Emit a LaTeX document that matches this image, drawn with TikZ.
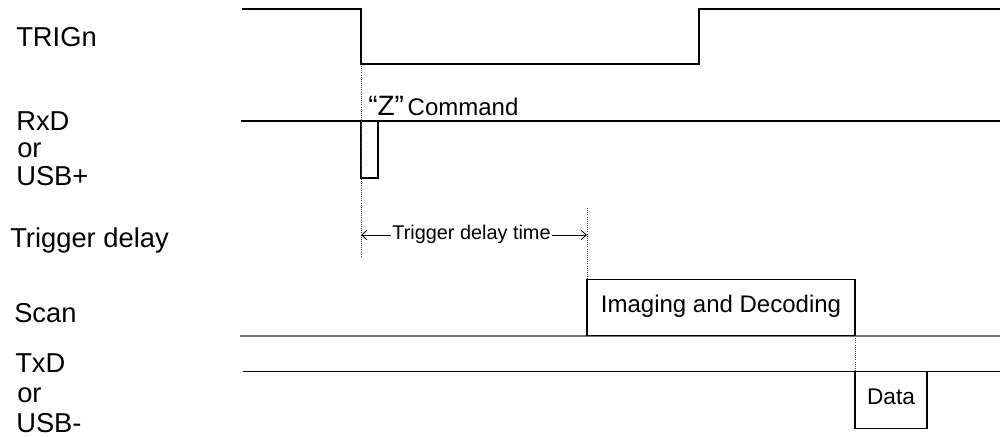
\documentclass[tikz,border=0pt]{standalone}
\usepackage{fontspec}
\setmainfont{Liberation Sans}
\usetikzlibrary{arrows.meta}
\begin{document}
\begin{tikzpicture}[x=0.75pt,y=-0.75pt,
  sig/.style={line width=0.8pt, black},
  grayline/.style={line width=1.5pt, black!55},
  guide/.style={densely dotted, line width=0.6pt, black!75},
  lbl/.style={anchor=base west, inner sep=0pt, font=\fontsize{20.5}{24}\selectfont},
  boxtext/.style={draw, line width=0.8pt, inner sep=0pt, text height=0.716em, text depth=0pt},
  dim/.style={line width=0.6pt, {Straight Barb[length=4pt,width=7pt]}-{Straight Barb[length=4pt,width=7pt]}}]
\useasboundingbox (0,0) rectangle (1000,436);

% signal names
\node[lbl] (ltrig) at (16,46) {TRIGn};
\node[lbl] (lrxd) at (16,130) {RxD};
\node[lbl] (lor1) at (17,157) {or};
\node[lbl] (lusbp) at (16,185) {USB+};
\node[lbl] (ldelay) at (10,247) {Trigger delay};
\node[lbl] (lscan) at (14,322) {Scan};
\node[lbl] (ltxd) at (15,372) {TxD};
\node[lbl] (lor2) at (17,402) {or};
\node[lbl] (lusbm) at (16,432) {USB-};

% TRIGn waveform
\coordinate (t0) at (242,9);
\coordinate (t1) at (361,9);
\coordinate (t2) at (361,64);
\coordinate (t3) at (699,64);
\coordinate (t4) at (699,9);
\coordinate (t5) at (1000,9);
\draw[sig] (t0) -- (t1) -- (t2) -- (t3) -- (t4) -- (t5);

% RxD waveform
\coordinate (r0) at (241,121);
\coordinate (r1) at (1000,121);
\coordinate (p0) at (361,121);
\coordinate (p1) at (361,178);
\coordinate (p2) at (378,178);
\coordinate (p3) at (378,121);
\draw[sig] (r0) -- (r1);
\draw[sig] (p0) -- (p1) -- (p2) -- (p3);
\node[anchor=base west, inner sep=0pt] (zcmd) at (368,115)
  {{\fontsize{21}{24}\selectfont “Z”} {\fontsize{18}{21}\selectfont Command}};

% guides
\coordinate (g1a) at (361,66);
\coordinate (g1b) at (361,258);
\draw[guide] (g1a) -- (g1b);
\coordinate (g2a) at (587,208);
\coordinate (g2b) at (587,279);
\draw[guide] (g2a) -- (g2b);
\coordinate (g3a) at (855,336);
\coordinate (g3b) at (855,371.7);
\draw[guide] (g3a) -- (g3b);

% trigger delay dimension
\coordinate (d0) at (361,235);
\coordinate (d1) at (587,235);
\draw[dim] (d0) -- (d1);
\node[fill=white, inner xsep=1pt, inner ysep=1pt, text height=0.716em, text depth=0pt,
  font=\fontsize{14.9}{17}\selectfont] (dtext) at (471.5,235) {Trigger delay time};

% Scan
\coordinate (s0) at (240,335.7);
\coordinate (s1) at (1000,335.7);
\draw[grayline] (s0) -- (s1);
\node[boxtext, minimum width=201pt, minimum height=42pt,
  font=\fontsize{18}{21}\selectfont] (scanbox) at (721,307.3) {Imaging and Decoding};

% TxD
\coordinate (x0) at (243,371.7);
\coordinate (x1) at (1000,371.7);
\draw[sig] (x0) -- (x1);
\node[boxtext, minimum width=54pt, minimum height=42.5pt,
  font=\fontsize{17}{20}\selectfont] (databox) at (891,399.8) {Data};
\end{tikzpicture}
\end{document}
